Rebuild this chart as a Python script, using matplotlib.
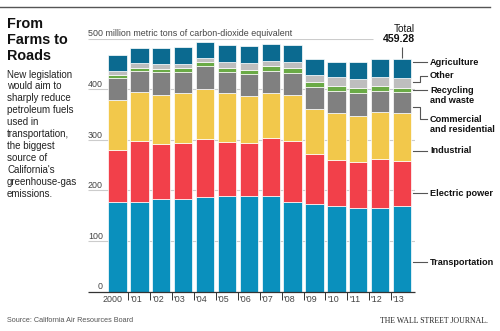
import matplotlib.pyplot as plt
import numpy as np

# California greenhouse-gas emissions by sector, million metric tons CO2e
years = ['2000', "'01", "'02", "'03", "'04", "'05", "'06",
         "'07", "'08", "'09", "'10", "'11", "'12", "'13"]
transportation = [176, 176, 182, 182, 186, 189, 189, 189, 177, 172, 169, 166, 166, 168]
electric_power = [104, 121, 109, 112, 115, 107, 104, 114, 120, 99, 91, 89, 95, 90]
industrial = [98, 97, 97, 98, 99, 96, 94, 90, 91, 89, 92, 92, 94, 94]
commercial = [43, 42, 45, 41, 46, 42, 42, 43, 44, 45, 44, 46, 41, 42]
recycling = [7, 6, 7, 8, 7, 8, 9, 9, 9, 10, 10, 10, 10, 9]
other = [8, 9, 9, 9, 8, 12, 13, 11, 13, 13, 17, 16, 18, 19]
agriculture = [31, 31, 32, 34, 33, 33, 34, 34, 34, 31, 31, 34, 35, 37.28]

series = [transportation, electric_power, industrial, commercial,
          recycling, other, agriculture]
colors = ['#0a90bd', '#f2404a', '#f2c84b', '#808080',
          '#6aaa46', '#bebebe', '#0b6a90']

W, H = 500, 331
fig = plt.figure(figsize=(W / 100, H / 100), dpi=100)
fig.patch.set_facecolor('white')

def fx(px):
    return px / W

def fy(py):
    return 1 - py / H

# plot area: x 88..415 px, y 0 at 291.5 px, 500 at 38.5 px
ax = fig.add_axes([fx(88), fy(291.5), fx(415) - fx(88), fy(38.5) - fy(291.5)])
x0, x1 = -1.348, 13.594
ax.set_xlim(x0, x1)
ax.set_ylim(0, 500)
ax.axis('off')

font = 'Liberation Sans'
grey = '#444444'

# gridlines and y labels
for v in [100, 200, 300, 400]:
    ax.hlines(v, x0, x1, color='#cccccc', lw=0.8, zorder=0)
    ax.text(-0.663, v + 4, str(v), ha='right', va='baseline',
            fontsize=6.4, color=grey, family=font)
ax.hlines(500, x0, 11.68, color='#cccccc', lw=0.8, zorder=0)
ax.text(x0, 504, '500 million metric tons of carbon-dioxide equivalent',
        ha='left', va='baseline', fontsize=6.4, color=grey, family=font)
ax.text(-0.663, 4, '0', ha='right', va='baseline',
        fontsize=6.4, color=grey, family=font)

# stacked bars
x = np.arange(len(years))
bottom = np.zeros(len(years))
for vals, c in zip(series, colors):
    ax.bar(x, vals, width=0.84, bottom=bottom, color=c,
           edgecolor='white', linewidth=0.5, zorder=2)
    bottom += np.array(vals)

# x axis and ticks
ax.hlines(0, x0, x1, color='#333333', lw=0.9, zorder=3, clip_on=False)
ax.vlines(x[1:] - 0.5, -17, 0, color='#333333', lw=0.7, clip_on=False)
ax.text(-0.663, -15, years[0], ha='left', va='center',
        fontsize=6.4, color=grey, family=font)
for i in x[1:]:
    ax.text(i - 0.42, -15, years[i], ha='left', va='center',
            fontsize=6.4, color=grey, family=font)

# total for the last year
total = bottom[-1]
ax.vlines(x[-1], total + 3, total + 24, color='#555555', lw=0.8, clip_on=False)
ax.text(x1, 518, 'Total', ha='right', va='center', fontsize=7.2,
        color='#111111', family=font, clip_on=False)
ax.text(x1, 499, f'{total:.2f}', ha='right', va='center', fontsize=7.6,
        fontweight='bold', color='#111111', family=font, clip_on=False)

# sector labels with leader lines
lx0, lxm, lx1, tx = 13.5, 13.82, 14.14, 14.28
label_kw = dict(ha='left', va='center', fontsize=6.6, fontweight='bold',
                color='#111111', family=font, clip_on=False)
line_kw = dict(color='#555555', lw=0.8, clip_on=False)

straight = [('Agriculture', 453), ('Recycling', 398), ('Industrial', 278),
            ('Electric power', 194), ('Transportation', 58)]
for name, y in straight:
    ax.plot([lx0, lx1], [y, y], **line_kw)
    ax.text(tx, y, name, **label_kw)
ax.text(tx, 378, 'and waste', **label_kw)

ax.plot([lx0, lxm, lxm, lx1], [414, 414, 426, 426], **line_kw)
ax.text(tx, 426, 'Other', **label_kw)

ax.plot([lx0, lxm, lxm, lx1], [365, 365, 340.5, 340.5], **line_kw)
ax.text(tx, 340.5, 'Commercial', **label_kw)
ax.text(tx, 320.8, 'and residential', **label_kw)

# header rule, title and intro
fig.add_artist(plt.Line2D([0, fx(490)], [fy(7), fy(7)], color='#555555', lw=1.0))
fig.text(fx(7), fy(16.5), 'From\nFarms to\nRoads', ha='left', va='top',
         fontsize=10.4, fontweight='bold', color='#111111', family=font,
         linespacing=1.2)
fig.text(fx(7), fy(69.5), "New legislation\nwould aim to\nsharply reduce\n"
         "petroleum fuels\nused in\ntransportation,\nthe biggest\nsource of\n"
         "California's\ngreenhouse-gas\nemissions.",
         ha='left', va='top', fontsize=7, color='#222222', family=font,
         linespacing=1.24)

# footer
fig.text(fx(7), fy(321), 'Source: California Air Resources Board', ha='left',
         va='center', fontsize=5.2, color='#555555', family=font)
fig.text(fx(488), fy(321), 'THE WALL STREET JOURNAL.', ha='right', va='center',
         fontsize=5.6, color='#222222', family='Liberation Serif')

fig.savefig('out.png', dpi=100, facecolor='white')
